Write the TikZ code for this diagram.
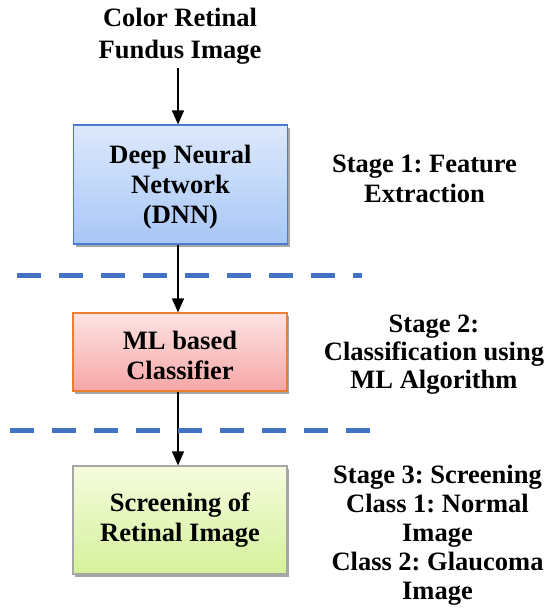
\documentclass[tikz,border=0pt]{standalone}
\usepackage{fontspec}
\setmainfont{Liberation Serif}
\usetikzlibrary{arrows.meta,shadows}
\definecolor{bluetop}{HTML}{DDE9FC}
\definecolor{bluebot}{HTML}{A8C6F6}
\definecolor{blueedge}{HTML}{4A7BD0}
\definecolor{redtop}{HTML}{FDE3E3}
\definecolor{redbot}{HTML}{F6A6A6}
\definecolor{rededge}{HTML}{ED7D31}
\definecolor{greentop}{HTML}{F6FCDE}
\definecolor{greenbot}{HTML}{D4F19A}
\definecolor{grayedge}{HTML}{A6A6A6}
\definecolor{dashblue}{HTML}{4472C4}
\newcommand{\tstrut}{\rule{0pt}{24.5pt}}
\tikzset{
  txt/.style={font=\fontsize{26.5}{30}\selectfont\bfseries\frenchspacing, align=center, inner sep=0pt},
  box/.style={draw, line width=1.2pt, minimum width=214pt, inner sep=0pt,
    drop shadow={shadow xshift=2pt, shadow yshift=-3pt, fill=black!35, opacity=1},
    font=\fontsize{26.5}{30}\selectfont\bfseries\frenchspacing, align=center},
  sep/.style={dashblue, line width=5pt, dash pattern=on 24pt off 18pt},
  arr/.style={-{Triangle[length=14pt,width=12pt]}, line width=1.5pt}
}
\begin{document}
\begin{tikzpicture}[x=1pt,y=-1pt]
\useasboundingbox (0,0) rectangle (549,613);
\node[txt, font=\fontsize{26.5}{31.5}\selectfont\bfseries] (title) at (180,36) {Color Retinal\\Fundus Image};
\node[box, minimum height=119pt, draw=blueedge, top color=bluetop, bottom color=bluebot] (dnn) at (180.5,184.5) {\tstrut Deep Neural\\Network\\(DNN)};
\node[box, minimum height=78pt, draw=rededge, top color=redtop, bottom color=redbot] (ml) at (180,352) {\tstrut ML based\\Classifier};
\node[box, minimum height=108pt, draw=grayedge, top color=greentop, bottom color=greenbot] (scr) at (180,520) {Screening of\\Retinal Image};
\coordinate (t0) at (178,68);
\draw[arr] (t0) -- (dnn.north -| t0);
\draw[arr] (dnn.south -| t0) -- (ml.north -| t0);
\draw[arr] (ml.south -| t0) -- (scr.north -| t0);
\coordinate (l1a) at (17,275); \coordinate (l1b) at (362,275);
\coordinate (l2a) at (10,430); \coordinate (l2b) at (372,430);
\draw[sep] (l1a) -- (l1b);
\draw[sep] (l2a) -- (l2b);
\node[txt] (s1) at (424.5,179) {Stage 1: Feature\\Extraction};
\node[txt, font=\fontsize{26.5}{28}\selectfont\bfseries\frenchspacing] (s2) at (434,355) {Stage 2:\\Classification using\\ML Algorithm};
\node[txt, font=\fontsize{26.5}{29}\selectfont\bfseries\frenchspacing] (s3) at (437.5,535) {Stage 3: Screening\\Class 1: Normal\\Image\\Class 2: Glaucoma\\Image};
\end{tikzpicture}
\end{document}
